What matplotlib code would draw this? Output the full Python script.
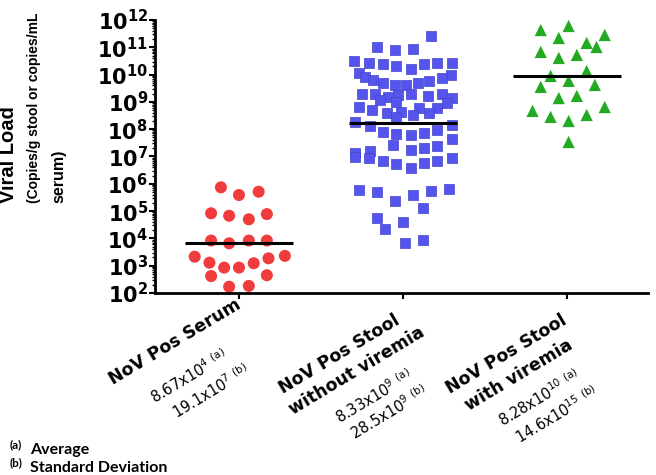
import numpy as np
import matplotlib
matplotlib.use('Agg')
import matplotlib.pyplot as plt
from matplotlib.ticker import LogLocator, FuncFormatter, NullFormatter

plt.rcParams['mathtext.default'] = 'regular'

# groups (x positions 0,1,2)
cat_names = [['NoV Pos Serum'],
             ['NoV Pos Stool', 'without viremia'],
             ['NoV Pos Stool', 'with viremia']]
avg_labels = [r'$8.67x10^{4}\ {}^{(a)}$', r'$8.33x10^{9}\ {}^{(a)}$', r'$8.28x10^{10}\ {}^{(a)}$']
sd_labels = [r'$19.1x10^{7}\ {}^{(b)}$', r'$28.5x10^{9}\ {}^{(b)}$', r'$14.6x10^{15}\ {}^{(b)}$']

# log10 viral load, with horizontal jitter (category units)
serum_log = [5.87, 5.59, 5.71, 4.92, 4.83, 4.70, 4.89, 3.92, 3.82, 3.92, 3.92,
             3.33, 3.11, 2.93, 2.93, 3.09, 3.27, 3.36, 2.62, 2.65, 2.23, 2.26]
serum_dx = [-0.11, 0.0, 0.12, -0.17, -0.06, 0.06, 0.17, -0.17, -0.06, 0.06, 0.17,
            -0.27, -0.18, -0.09, 0.0, 0.09, 0.18, 0.28, -0.17, 0.17, -0.06, 0.06]

stool_log = [11.41, 11.01, 10.90, 10.94,
             10.50, 10.44, 10.39, 10.33, 10.21, 10.37, 10.41, 10.44,
             10.06, 9.99,
             9.91, 9.80, 9.69, 9.62, 9.62, 9.69, 9.77, 9.88,
             9.29, 9.29, 9.18, 9.25, 9.29, 9.22, 9.29, 9.14, 9.07, 9.00,
             8.81, 8.70, 8.59, 8.63, 8.78, 8.78, 8.96, 8.45, 8.52, 8.59,
             8.26, 8.12, 7.90, 7.82, 7.79, 7.86, 7.97, 8.15, 7.64,
             7.13, 7.20, 7.42, 7.24, 7.31, 7.38,
             6.95, 6.84, 6.73, 6.58, 6.76, 6.84, 6.95, 6.98,
             5.77, 5.70, 5.37, 5.59, 5.74, 5.81, 5.11, 4.75, 4.60, 4.34, 3.83, 3.94]
stool_dx = [0.17, -0.16, -0.05, 0.06,
            -0.30, -0.21, -0.12, -0.04, 0.05, 0.13, 0.21, 0.30,
            -0.27, 0.29,
            -0.23, -0.18, -0.12, -0.05, 0.02, 0.09, 0.16, 0.24,
            -0.25, -0.17, -0.09, -0.03, 0.05, 0.15, 0.24, 0.30, -0.14, -0.04,
            -0.27, -0.19, -0.10, -0.01, 0.10, 0.21, 0.27, -0.04, 0.06, 0.16,
            -0.29, -0.20, -0.12, -0.04, 0.05, 0.13, 0.21, 0.30, 0.30,
            -0.29, -0.20, -0.06, 0.05, 0.13, 0.21,
            -0.21, -0.12, -0.04, 0.05, 0.13, 0.21, 0.30, -0.29,
            -0.27, -0.16, -0.05, 0.06, 0.17, 0.28, 0.12, -0.16, 0.00, -0.11, 0.01, 0.12]

viremia_log = [11.63, 11.78, 11.45, 11.34, 11.16, 11.01, 10.83, 10.61, 10.72, 9.95, 10.13,
               9.77, 9.55, 9.62, 9.14, 9.22, 8.67, 8.81, 8.45, 8.52, 8.30, 7.53]
viremia_dx = [-0.16, 0.01, 0.23, -0.05, 0.12, 0.18, -0.16, -0.05, 0.06, -0.10, 0.12,
              0.01, -0.16, 0.17, -0.05, 0.06, -0.21, 0.23, -0.10, 0.12, 0.01, 0.01]

means = [6.6e3, 1.7e8, 8.9e9]

W, H = 656, 475


def px(x, y):
    return x / W, 1 - y / H


fig = plt.figure(figsize=(W / 100, H / 100), dpi=100)
ax = fig.add_axes([155 / W, (H - 293) / H, (648 - 155) / W, (293 - 20) / H])

ax.scatter(0 + np.array(serum_dx), 10 ** np.array(serum_log), s=75, marker='o',
           color='#F03C3C', edgecolors='none', zorder=2)
ax.scatter(1 + np.array(stool_dx), 10 ** np.array(stool_log), s=62, marker='s',
           color='#5555EE', edgecolors='#4444CC', linewidths=0.5, zorder=2)
ax.scatter(2 + np.array(viremia_dx), 10 ** np.array(viremia_log), s=78, marker='^',
           color='#22AA22', edgecolors='none', zorder=2)
for i, m in enumerate(means):
    ax.hlines(m, i - 0.33, i + 0.33, color='black', lw=2.2, zorder=3)

ax.set_yscale('log')
ax.set_ylim(1e2, 1e12)
ax.set_xlim(-0.512, 2.494)
ax.yaxis.set_major_locator(LogLocator(base=10, numticks=20))
ax.yaxis.set_minor_locator(LogLocator(base=10, subs=np.arange(2, 10), numticks=20))
ax.yaxis.set_minor_formatter(NullFormatter())
ax.yaxis.set_major_formatter(FuncFormatter(lambda v, p: r'$10^{%d}$' % round(np.log10(v))))
ax.set_xticks([0, 1, 2])
ax.set_xticklabels([])
ax.tick_params(axis='y', which='major', length=4, width=1.5, pad=1, labelsize=15)
ax.tick_params(axis='y', which='minor', length=2.5, width=1)
ax.tick_params(axis='x', length=4, width=1.5)
for lbl in ax.get_yticklabels():
    lbl.set_fontweight('bold')
for s in ['top', 'right']:
    ax.spines[s].set_visible(False)
for s in ['left', 'bottom']:
    ax.spines[s].set_linewidth(2)

# y label, three lines aligned at the bottom
ylab = ['Viral Load', '(Copies/g stool or copies/mL', 'serum)']
ylab_size = [14.5, 10, 11.5]
for j, (t, fs) in enumerate(zip(ylab, ylab_size)):
    fig.text(*px(9 + 25 * j, 203), t, rotation=90, ha='center', va='bottom',
             fontsize=fs, fontweight='bold', family='Liberation Sans')

# category labels
name_start = [[(113, 385)], [(283, 394), (293, 415)], [(450, 394), (469, 411)]]
avg_start = [(155, 404), (340, 424), (503, 427)]
sd_start = [(177, 419), (355, 440), (520, 444)]
ang = 31
for i in range(3):
    for t, xy in zip(cat_names[i], name_start[i]):
        fig.text(*px(*xy), t, rotation=ang, rotation_mode='anchor', ha='left',
                 va='baseline', fontsize=12.5, fontweight='bold')
    fig.text(*px(*avg_start[i]), avg_labels[i], rotation=ang, rotation_mode='anchor',
             ha='left', va='baseline', fontsize=10.5)
    fig.text(*px(*sd_start[i]), sd_labels[i], rotation=ang, rotation_mode='anchor',
             ha='left', va='baseline', fontsize=10.5)

# footnotes
fig.text(*px(10, 448), '(a)', fontsize=8.5, fontweight='bold', family='Lato')
fig.text(*px(30, 454), 'Average', fontsize=11.5, fontweight='bold', family='Lato')
fig.text(*px(10, 466), '(b)', fontsize=8.5, fontweight='bold', family='Lato')
fig.text(*px(30, 472), 'Standard Deviation', fontsize=11.5, fontweight='bold', family='Lato')

fig.savefig('out.png', dpi=100)
